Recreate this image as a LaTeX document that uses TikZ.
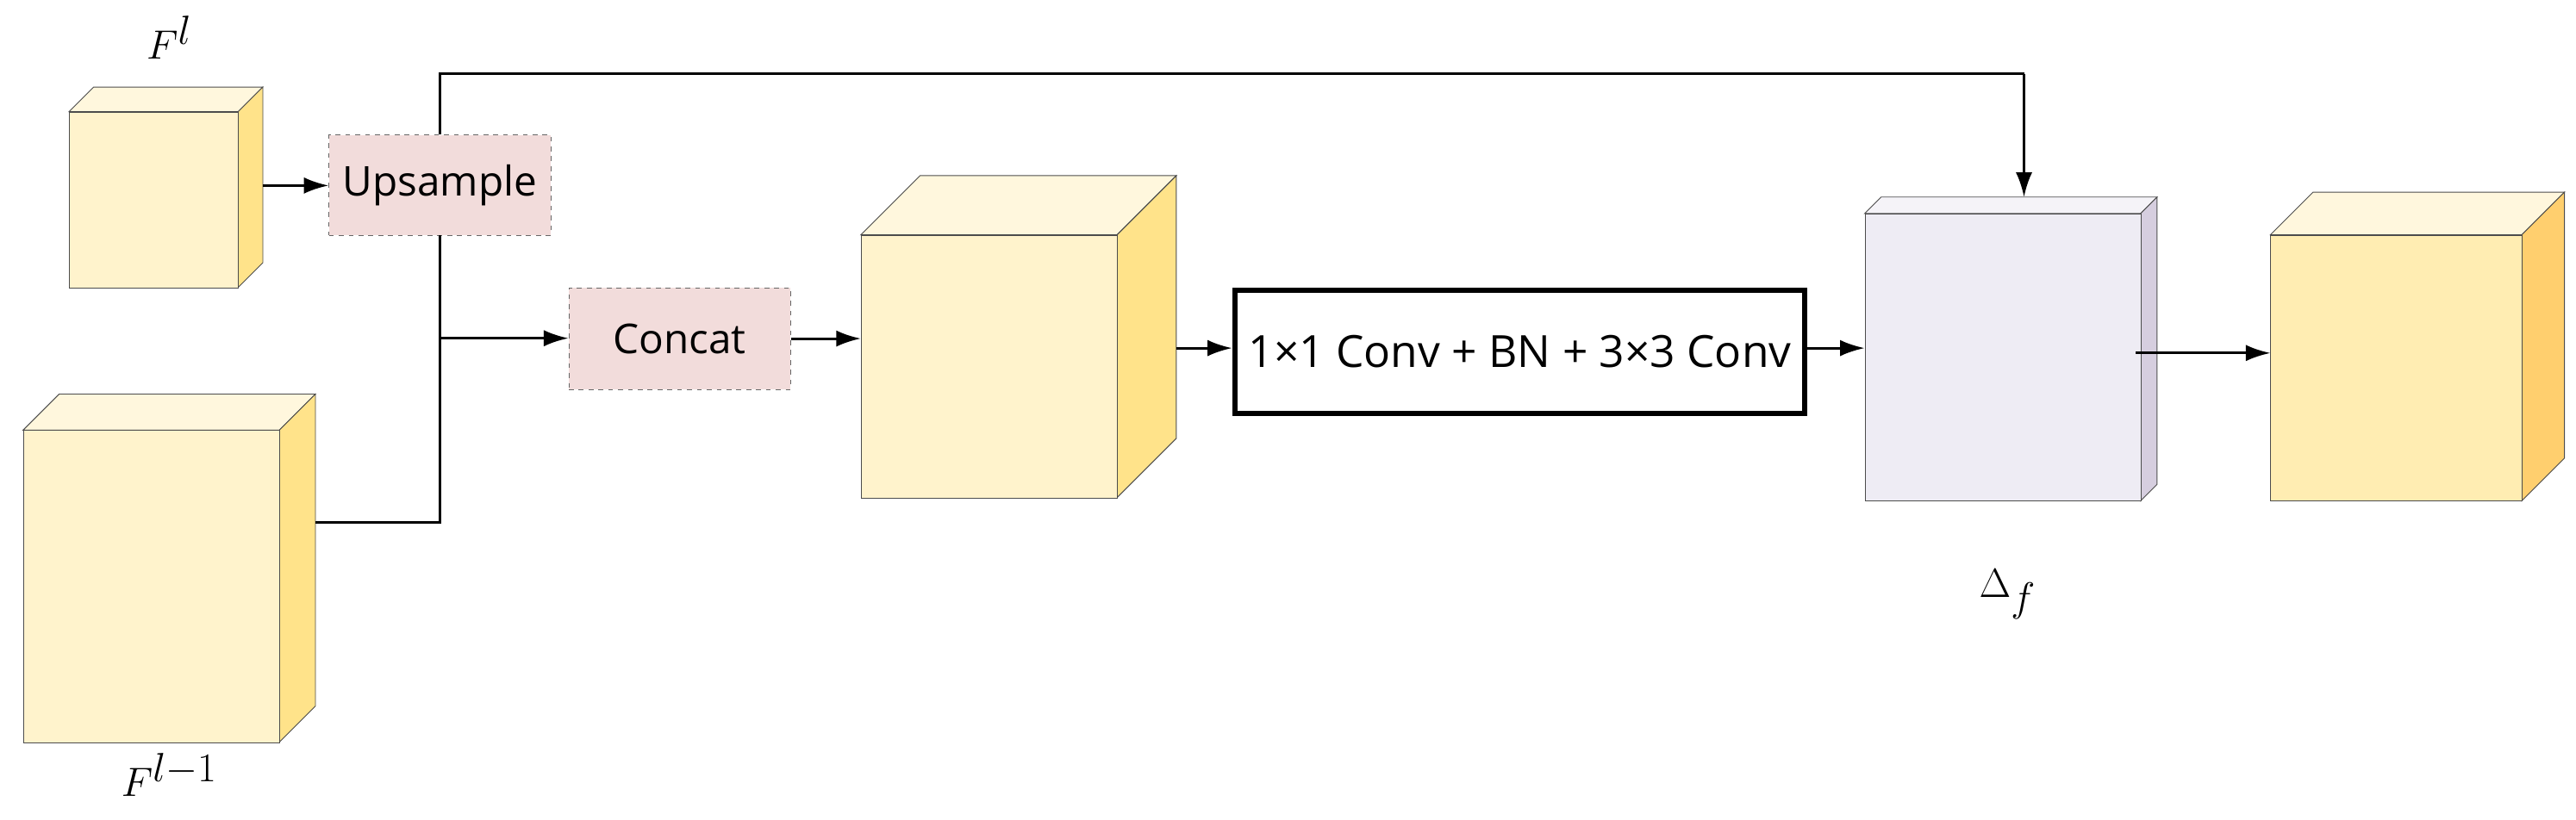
\documentclass[tikz,border=0pt]{standalone}
\usepackage{fontspec}
\setsansfont{Open Sans}
\usetikzlibrary{arrows.meta,calc}
\definecolor{cf}{HTML}{FFF3CC}
\definecolor{ct}{HTML}{FFF7DD}
\definecolor{cs}{HTML}{FFE38A}
\definecolor{lf}{HTML}{EEECF4}
\definecolor{lt}{HTML}{F5F3F8}
\definecolor{ls}{HTML}{D6CEDF}
\definecolor{pk}{HTML}{F2DCDB}
\newcommand\mkcube[9]{% name,x1,y1,x2,y2,d,front,top,side
 \fill[#8,draw=black!70,line width=0.5pt] (#2,#3) -- ++(#6,-#6) -- (#4+#6,#3-#6) -- (#4,#3) -- cycle;
 \fill[#9,draw=black!70,line width=0.5pt] (#4,#3) -- (#4+#6,#3-#6) -- (#4+#6,#5-#6) -- (#4,#5) -- cycle;
 \node[draw=black!70,line width=0.5pt,fill=#7,minimum width=#4-#2,minimum height=#5-#3,inner sep=0,anchor=north west] (#1) at (#2,#3) {};
}
\tikzset{x=1pt,y=-1pt,
 arr/.style={-{Latex[length=15pt,width=10pt]},line width=1.6pt},
 ln/.style={line width=1.6pt},
 dbox/.style={draw=black!60,dashed,fill=pk,inner sep=0,font=\sffamily\fontsize{25}{28}\selectfont},
 lab/.style={font=\fontsize{38}{42}\selectfont}}
\begin{document}
\begin{tikzpicture}
\useasboundingbox (0,0) rectangle (1568,499.4);
\mkcube{c1}{42}{68}{145}{175}{15}{cf}{ct}{cs}
\mkcube{c2}{14}{262}{170}{452}{22}{cf}{ct}{cs}
\mkcube{c3}{524}{143}{680}{303}{36}{cf}{ct}{cs}
\mkcube{c4}{1135}{130}{1303}{305}{10}{lf}{lt}{ls}
\mkcube{c5}{1382}{143}{1535}{305}{26}{cf!60!cs}{ct}{cs!80!orange}
\node[dbox,minimum width=135,minimum height=61,anchor=north west] (up) at (200,82) {Upsample};
\node[dbox,minimum width=135,minimum height=62,anchor=north west] (cat) at (346,175) {Concat};
\node[draw,line width=3.2pt,minimum width=347,minimum height=75,inner sep=0,anchor=north west,font=\sffamily\fontsize{27}{30}\selectfont] (conv) at (750,175) {1×1 Conv + BN + 3×3 Conv};
\node[lab] (l1) at (103,23) {$F^{l}$};
\node[lab] (l2) at (103,472) {$F^{l-1}$};
\node[lab] (l3) at (1222,362) {$\Delta_f$};
\coordinate (j1) at (268,318);
\coordinate (j2) at (268,206);
\coordinate (t1) at (268,45);
\coordinate (t2) at (1232,45);
\draw[arr] (145+15,113) -- (up.west |- 0,113);
\draw[ln] (192,318) -- (j1) -- (up.south -| j1);
\draw[arr] (j2) -- (cat.west |- j2);
\draw[ln] (up.north -| t1) -- (t1) -- (t2);
\draw[arr] (t2) -- (1232,120);
\draw[arr] (cat.east) -- (c3.west |- cat.east);
\draw[arr] (716,212) -- (conv.west |- 0,212);
\draw[arr] (conv.east |- 0,212) -- (c4.west |- 0,212);
\draw[arr] (1300,215) -- (c5.west |- 0,215);
\end{tikzpicture}
\end{document}
